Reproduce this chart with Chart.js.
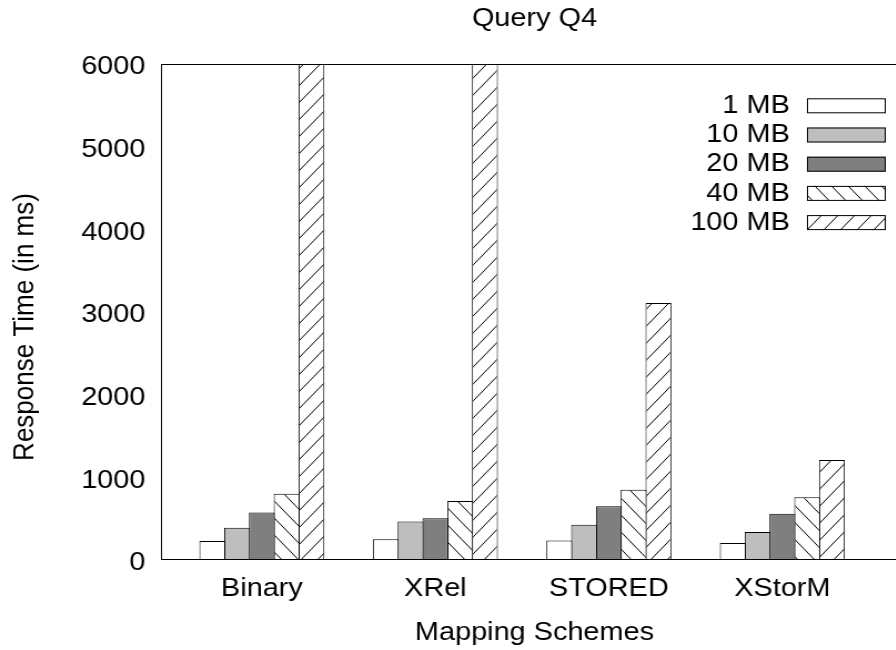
<!DOCTYPE html>
<html>
<head>
<meta charset="utf-8">
<title>Query Q4</title>
<script src="https://cdn.jsdelivr.net/npm/chart.js@4.4.1/dist/chart.umd.min.js"></script>
<style>
  html, body { margin: 0; padding: 0; background: #fff; width: 896px; height: 650px; overflow: hidden; }
  /* the plot is laid out narrow and widened horizontally */
  #stage { width: 818px; height: 650px; transform: scaleX(1.11); transform-origin: 0 0; }
</style>
</head>
<body>
<div id="stage"><canvas id="chart" width="818" height="650"></canvas></div>
<script>
// Response times (ms) per mapping scheme, one array per document size
const categories = ['Binary', 'XRel', 'STORED', 'XStorM'];
const seriesLabels = ['1 MB', '10 MB', '20 MB', '40 MB', '100 MB'];
const mb1   = [230, 250, 235, 205];
const mb10  = [390, 465, 425, 340];
const mb20  = [575, 505, 650, 560];
const mb40  = [800, 715, 850, 760];
const mb100 = [6800, 6500, 3110, 1210];
const yTickValues = [0, 1000, 2000, 3000, 4000, 5000, 6000];

const FAMILY = "'Liberation Sans', Arial, Helvetica, sans-serif";
const FONT = { family: FAMILY, size: 26, weight: 'normal' };

// diagonal hatch tile: dir '/' or '\\'
function hatch(dir) {
  const W = 15, H = 17;
  const c = document.createElement('canvas');
  c.width = W; c.height = H;
  const g = c.getContext('2d');
  g.fillStyle = '#fff';
  g.fillRect(0, 0, W, H);
  g.strokeStyle = '#000';
  g.lineWidth = 1;
  g.beginPath();
  for (const x0 of [-W, 0, W]) {
    if (dir === '/') { g.moveTo(x0, H); g.lineTo(x0 + W, 0); }
    else { g.moveTo(x0, 0); g.lineTo(x0 + W, H); }
  }
  g.stroke();
  return g.createPattern(c, 'repeat');
}

const seriesValues = [mb1, mb10, mb20, mb40, mb100];
const fills = ['#ffffff', '#bebebe', '#7f7f7f', hatch('\\'), hatch('/')];

const datasets = seriesValues.map((vals, s) => ({
  label: seriesLabels[s],
  data: vals.map((v, i) => ({ x: i, y: v })),
  backgroundColor: fills[s],
  borderColor: '#000',
  borderWidth: 1,
  borderSkipped: 'start',
  inflateAmount: 0,
  clip: 0,
  categoryPercentage: 5 / 7,
  barPercentage: 1.045
}));

// frame, rotated y title and key
const decor = {
  id: 'decor',
  afterDraw(chart) {
    const { ctx, chartArea: a } = chart;
    ctx.save();
    ctx.strokeStyle = '#000';
    ctx.lineWidth = 1;
    ctx.strokeRect(a.left + 0.5, a.top + 0.5, a.right - a.left, a.bottom - a.top - 1);

    ctx.fillStyle = '#000';
    ctx.font = `26px ${FAMILY}`;
    ctx.textAlign = 'center';
    ctx.textBaseline = 'middle';
    ctx.save();
    ctx.translate(22.5, (a.top + a.bottom) / 2 + 15);
    ctx.rotate(-Math.PI / 2);
    ctx.fillText('Response Time (in ms)', 0, 0);
    ctx.restore();

    // key, top right inside the plot
    const boxX = 727, boxW = 71, boxH = 15, textX = 711.5, firstY = 105.8, step = 29.2;
    ctx.textAlign = 'right';
    chart.data.datasets.forEach((d, i) => {
      const cy = firstY + i * step;
      ctx.fillStyle = d.backgroundColor;
      ctx.fillRect(boxX, cy - boxH / 2, boxW, boxH);
      ctx.strokeStyle = '#000';
      ctx.lineWidth = 1;
      ctx.strokeRect(boxX + 0.5, cy - boxH / 2 + 0.5, boxW - 1, boxH - 1);
      ctx.fillStyle = '#000';
      ctx.fillText(d.label, textX, cy);
    });
    ctx.restore();
  }
};

new Chart(document.getElementById('chart'), {
  type: 'bar',
  data: { datasets },
  plugins: [decor],
  options: {
    responsive: false,
    devicePixelRatio: 1,
    animation: false,
    layout: { padding: 0 },
    plugins: {
      legend: { display: false },
      tooltip: { enabled: false },
      title: {
        display: true,
        text: 'Query Q4',
        fullSize: false,
        color: '#000',
        font: FONT,
        padding: { top: 3, bottom: 29.8 }
      }
    },
    scales: {
      x: {
        type: 'linear',
        min: -0.5816,
        max: 3.724,
        offset: false,
        grid: { display: false, drawTicks: false },
        border: { display: false },
        afterBuildTicks: (s) => { s.ticks = categories.map((c, i) => ({ value: i })); },
        afterFit: (s) => { s.height = 90; },
        ticks: {
          color: '#000',
          font: FONT,
          padding: 13,
          maxRotation: 0,
          autoSkip: false,
          callback: (v, i) => categories[i]
        },
        title: {
          display: true,
          text: 'Mapping Schemes',
          color: '#000',
          font: FONT,
          padding: { top: 0, bottom: 2 }
        }
      },
      y: {
        min: 0,
        max: 6000,
        grid: { display: false, drawTicks: false },
        border: { display: false },
        afterBuildTicks: (s) => { s.ticks = yTickValues.map(v => ({ value: v })); },
        afterFit: (s) => { s.width = 145; },
        ticks: {
          color: '#000',
          font: FONT,
          padding: 14,
          labelOffset: 3,
          callback: (v) => String(v)
        }
      }
    }
  }
});
</script>
</body>
</html>
